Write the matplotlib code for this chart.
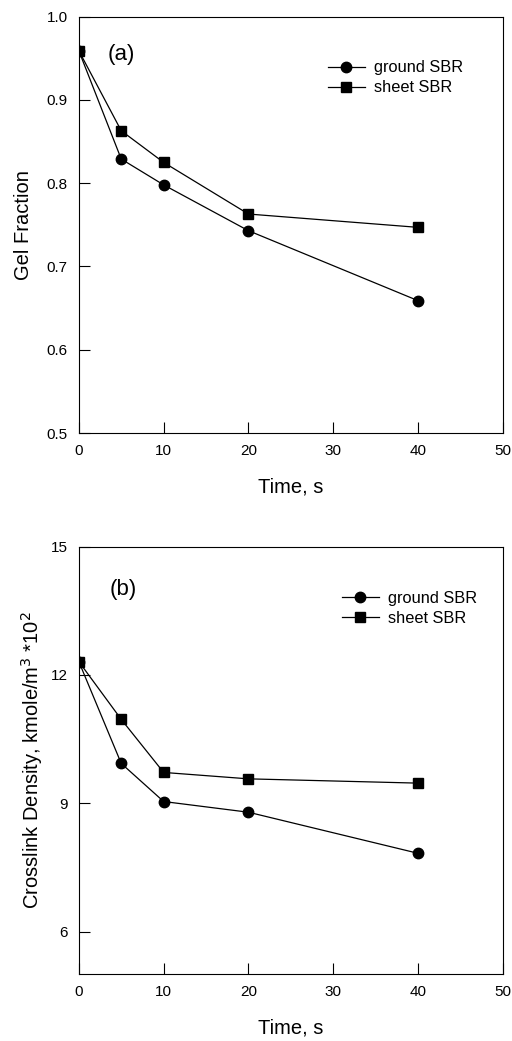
import matplotlib
matplotlib.use("Agg")
import matplotlib.pyplot as plt

plt.rcParams['font.family'] = ['Liberation Sans', 'DejaVu Sans']

time_s = [0, 5, 10, 20, 40]

gel_ground = [0.959, 0.829, 0.798, 0.743, 0.659]
gel_sheet = [0.959, 0.863, 0.825, 0.763, 0.747]

xl_ground = [12.31, 9.93, 9.04, 8.79, 7.83]
xl_sheet = [12.31, 10.96, 9.72, 9.57, 9.47]

x_ticks = [0, 10, 20, 30, 40, 50]
gel_ticks = [0.5, 0.6, 0.7, 0.8, 0.9, 1.0]
xl_ticks = [6, 9, 12, 15]

fig = plt.figure(figsize=(5.12, 10.41), dpi=100)
ax1 = fig.add_axes([0.154, 0.584, 0.828, 0.400])
ax2 = fig.add_axes([0.154, 0.064, 0.828, 0.411])


def style(ax):
    for s in ax.spines.values():
        s.set_linewidth(0.8)
    ax.tick_params(direction='in', length=8, width=0.8, labelsize=11,
                   top=False, right=False, pad=8)
    ax.set_xlim(0, 50)
    ax.set_xticks(x_ticks)
    ax.set_xlabel("Time, s", fontsize=14.5, labelpad=14)


# (a) gel fraction
ax1.plot(time_s, gel_ground, '-o', color='black', lw=0.9, ms=7.5, label='ground SBR')
ax1.plot(time_s, gel_sheet, '-s', color='black', lw=0.9, ms=6.5, label='sheet SBR')
style(ax1)
ax1.set_ylim(0.5, 1.0)
ax1.set_yticks(gel_ticks)
ax1.set_yticklabels([f"{v:.1f}" for v in gel_ticks])
ax1.set_ylabel("Gel Fraction", fontsize=14.5, labelpad=10)
ax1.text(3.4, 0.955, "(a)", fontsize=16, va='center')
ax1.legend(loc='upper left', bbox_to_anchor=(0.587, 0.895), frameon=False,
           borderpad=0, borderaxespad=0,
           fontsize=11.8, handlelength=2.25, handletextpad=0.6, labelspacing=0.3)

# (b) crosslink density
ax2.plot(time_s, xl_ground, '-o', color='black', lw=0.9, ms=7.5, label='ground SBR')
ax2.plot(time_s, xl_sheet, '-s', color='black', lw=0.9, ms=6.5, label='sheet SBR')
style(ax2)
ax2.set_ylim(5, 15)
ax2.set_yticks(xl_ticks)
ax2.set_ylabel("Crosslink Density, kmole/m$^3$ *10$^2$", fontsize=14.5, labelpad=4)
ax2.text(3.6, 14.0, "(b)", fontsize=16, va='center')
ax2.legend(loc='upper left', bbox_to_anchor=(0.62, 0.897), frameon=False,
           borderpad=0, borderaxespad=0,
           fontsize=11.8, handlelength=2.25, handletextpad=0.6, labelspacing=0.3)

fig.savefig("out.png", dpi=100)
